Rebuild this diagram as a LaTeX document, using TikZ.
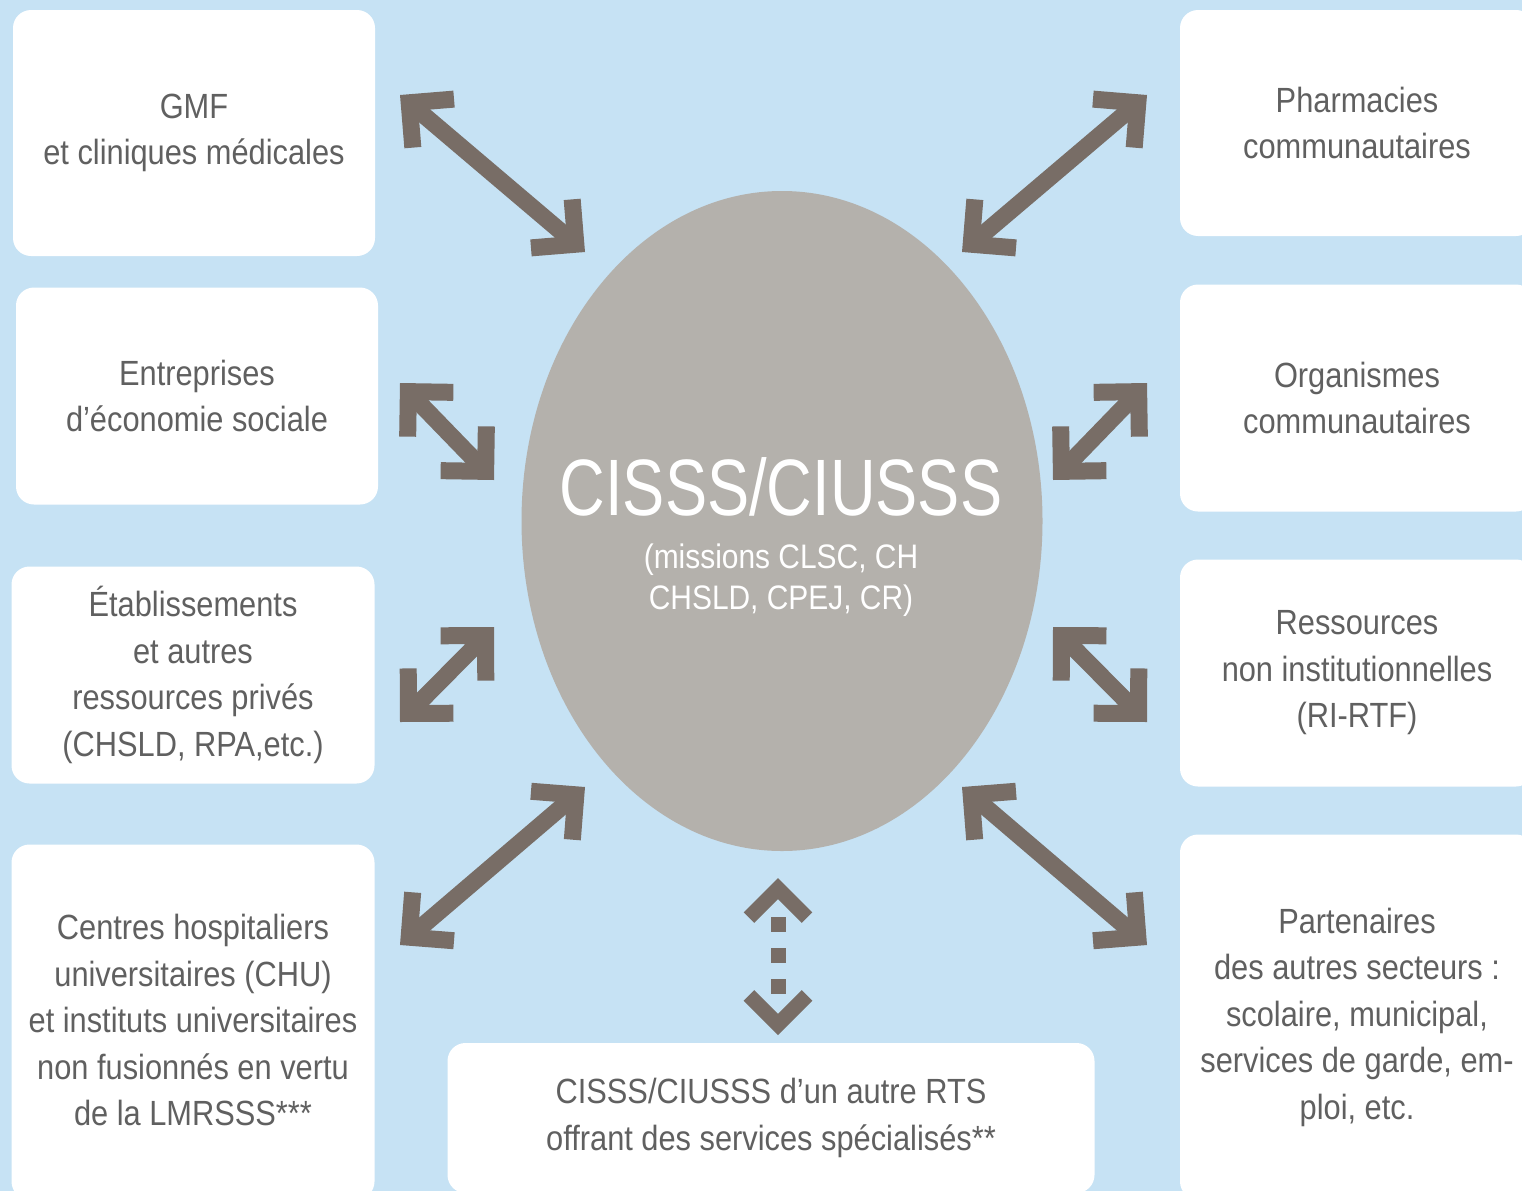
\documentclass[tikz,border=0pt]{standalone}
\usepackage{fontspec}
\newfontfamily\boxfont{Liberation Sans}[FakeStretch=0.88]
\newfontfamily\hubfont{Liberation Sans}[FakeStretch=0.79]
\usetikzlibrary{shapes.geometric,arrows.meta}

\definecolor{skyback}{RGB}{198,226,244}
\definecolor{hubgrey}{RGB}{180,177,172}
\definecolor{arrowbrown}{RGB}{120,109,102}
\definecolor{labelgrey}{RGB}{96,96,96}

\tikzset{
  partbox/.style={fill=white, rounded corners=18pt, inner sep=0pt, align=center,
    text=labelgrey, font=\boxfont\fontsize{35}{46.5}\selectfont},
  linkarrow/.style={draw=arrowbrown, line width=17pt,
    arrows={Straight Barb[angle=90:45pt,sharp]-Straight Barb[angle=90:45pt,sharp]}},
  dotarrow/.style={draw=arrowbrown, line width=15pt,
    dash pattern=on 0pt off 21pt on 15pt off 16pt on 15pt off 16pt on 15pt off 200pt,
    arrows={Straight Barb[angle=90:41pt,sharp]-Straight Barb[angle=90:41pt,sharp]}}
}

\begin{document}
\begin{tikzpicture}[x=1pt,y=-1pt]
	\useasboundingbox (0,0) rectangle (1522,1191);
	\fill[skyback] (0,0) rectangle (1522,1191);

	% left column
	\node[partbox, minimum width=362pt, minimum height=246pt] (gmf) at (194,133) {GMF\\et cliniques médicales};
	\node[partbox, minimum width=362pt, minimum height=217pt] (ecosoc) at (197,396) {Entreprises\\d’économie sociale};
	\node[partbox, minimum width=363pt, minimum height=217pt] (prives) at (193,675) {Établissements\\et autres\\ressources privés\\(CHSLD, RPA,etc.)};
	\node[partbox, minimum width=363pt, minimum height=355pt] (chu) at (193,1022) {};
		\node[align=center, text=labelgrey, font=\boxfont\fontsize{35}{46.5}\selectfont] (chutext) at (193,1020) {Centres hospitaliers\\universitaires (CHU)\\et instituts universitaires\\non fusionnés en vertu\\de la LMRSSS***};

	% right column
	\node[partbox, minimum width=354pt, minimum height=226pt] (pharma) at (1357,123) {Pharmacies\\communautaires};
	\node[partbox, minimum width=354pt, minimum height=227pt] (orga) at (1357,398) {Organismes\\communautaires};
	\node[partbox, minimum width=354pt, minimum height=227pt] (rirtf) at (1357,673) {Ressources\\non institutionnelles\\(RI-RTF)};
	\node[partbox, minimum width=354pt, minimum height=365pt] (partners) at (1357,1017) {Partenaires\\des autres secteurs~:\\scolaire, municipal,\\services de garde, em-\\ploi, etc.};

	% bottom
	\node[partbox, minimum width=647pt, minimum height=150pt] (autrerts) at (771,1118) {CISSS/CIUSSS d’un autre RTS\\offrant des services spécialisés**};

	% centre
	\node[ellipse, fill=hubgrey, minimum width=521pt, minimum height=660pt, inner sep=0pt] (hub) at (782,521) {};
	\node[inner sep=0pt, text=white, font=\hubfont\fontsize{80}{80}\selectfont] (hubname) at (781,487) {CISSS/CIUSSS};
	\node[align=center, inner sep=0pt, text=white, font=\boxfont\fontsize{34}{41}\selectfont] (hubmissions) at (781,580) {(missions CLSC, CH\\CHSLD, CPEJ, CR)};

	% arrow ends
	\coordinate (gmf-end) at (400,95);
	\coordinate (gmf-hub) at (585,252);
	\coordinate (pharma-end) at (1147,95);
	\coordinate (pharma-hub) at (962,252);
	\coordinate (ecosoc-end) at (400,383);
	\coordinate (ecosoc-hub) at (494,480);
	\coordinate (orga-end) at (1147,383);
	\coordinate (orga-hub) at (1053,480);
	\coordinate (prives-end) at (400,722);
	\coordinate (prives-hub) at (494,627);
	\coordinate (rirtf-end) at (1147,722);
	\coordinate (rirtf-hub) at (1053,627);
	\coordinate (chu-end) at (400,945);
	\coordinate (chu-hub) at (585,787);
	\coordinate (partners-end) at (1147,945);
	\coordinate (partners-hub) at (962,787);
	\coordinate (rts-hub) at (778,878);
	\coordinate (rts-end) at (778,1035);

	\draw[linkarrow] (gmf-end) -- (gmf-hub);
	\draw[linkarrow] (pharma-end) -- (pharma-hub);
	\draw[linkarrow] (ecosoc-end) -- (ecosoc-hub);
	\draw[linkarrow] (orga-end) -- (orga-hub);
	\draw[linkarrow] (prives-end) -- (prives-hub);
	\draw[linkarrow] (rirtf-end) -- (rirtf-hub);
	\draw[linkarrow] (chu-end) -- (chu-hub);
	\draw[linkarrow] (partners-end) -- (partners-hub);
	\draw[dotarrow] (rts-hub) -- (rts-end);
\end{tikzpicture}
\end{document}
